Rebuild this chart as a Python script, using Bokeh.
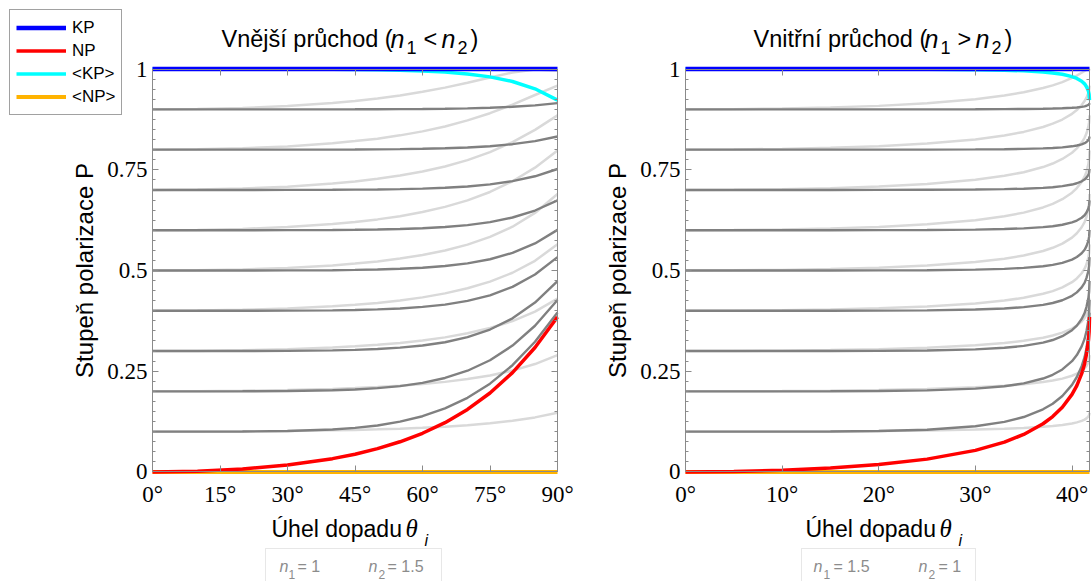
from bokeh.plotting import figure
from bokeh.models import (Range1d, LinearAxis, FixedTicker, Label, Legend, LegendItem,
                          BoxAnnotation)
from bokeh.layouts import row
from bokeh.embed import file_html
from bokeh.resources import INLINE

# ---------------- data ----------------
angles_ext = [0, 10, 20, 30, 40, 45, 50, 55, 60, 65, 70, 75, 80, 85, 90]
kp_ext = [1, 1, 1, 1, 1, 1, 1, 1, 1, 1, 1, 1, 1, 1, 1]
np_ext = [0.0, 0.0017, 0.0071, 0.0170, 0.0329, 0.0440, 0.0577, 0.0748, 0.0959, 0.1223,
          0.1551, 0.1958, 0.2465, 0.3089, 0.3846]
kp_avg_ext = [1.0, 1.0, 1.0, 0.9999, 0.9995, 0.9990, 0.9983, 0.9972, 0.9954, 0.9925,
              0.9879, 0.9807, 0.9692, 0.9511, 0.9231]
np_avg_ext = [0, 0, 0, 0, 0, 0, 0, 0, 0, 0, 0, 0, 0, 0, 0]
dark_ext = [
    [0.1, 0.1, 0.1003, 0.1014, 0.1052, 0.1092, 0.1153, 0.1247, 0.1382, 0.1575, 0.1839, 0.2190, 0.2649, 0.3232, 0.3955],
    [0.2, 0.2, 0.2001, 0.2007, 0.2026, 0.2046, 0.2079, 0.2130, 0.2210, 0.2332, 0.2512, 0.2771, 0.3136, 0.3628, 0.4266],
    [0.3, 0.3, 0.3001, 0.3004, 0.3016, 0.3029, 0.3050, 0.3084, 0.3137, 0.3219, 0.3345, 0.3534, 0.3812, 0.4205, 0.4739],
    [0.4, 0.4, 0.4001, 0.4003, 0.4011, 0.4020, 0.4035, 0.4058, 0.4096, 0.4154, 0.4245, 0.4384, 0.4594, 0.4901, 0.5332],
    [0.5, 0.5, 0.5000, 0.5002, 0.5008, 0.5015, 0.5025, 0.5042, 0.5069, 0.5111, 0.5177, 0.5280, 0.5437, 0.5671, 0.6008],
    [0.6, 0.6, 0.6000, 0.6002, 0.6006, 0.6010, 0.6018, 0.6030, 0.6049, 0.6079, 0.6127, 0.6201, 0.6316, 0.6489, 0.6743],
    [0.7, 0.7, 0.7000, 0.7001, 0.7004, 0.7007, 0.7012, 0.7020, 0.7033, 0.7054, 0.7087, 0.7138, 0.7218, 0.7339, 0.7520],
    [0.8, 0.8, 0.8000, 0.8001, 0.8002, 0.8004, 0.8008, 0.8013, 0.8021, 0.8034, 0.8054, 0.8086, 0.8136, 0.8212, 0.8326],
    [0.9, 0.9, 0.9000, 0.9000, 0.9001, 0.9002, 0.9004, 0.9006, 0.9010, 0.9016, 0.9025, 0.9040, 0.9064, 0.9100, 0.9155],
]
light_ext = [
    [0.1, 0.1002, 0.1007, 0.1016, 0.1031, 0.1042, 0.1056, 0.1073, 0.1095, 0.1123, 0.1159, 0.1206, 0.1269, 0.1353, 0.147],
    [0.2, 0.2003, 0.2013, 0.2031, 0.2060, 0.2081, 0.2107, 0.2140, 0.2182, 0.2235, 0.2305, 0.2395, 0.2515, 0.2677, 0.29],
    [0.3, 0.3004, 0.3019, 0.3045, 0.3087, 0.3117, 0.3155, 0.3202, 0.3263, 0.3340, 0.3440, 0.3571, 0.3744, 0.3977, 0.43],
    [0.4, 0.4006, 0.4024, 0.4057, 0.4111, 0.4149, 0.4196, 0.4257, 0.4333, 0.4432, 0.4559, 0.4724, 0.4944, 0.5241, 0.565],
    [0.5, 0.5006, 0.5027, 0.5065, 0.5127, 0.5171, 0.5226, 0.5296, 0.5384, 0.5497, 0.5643, 0.5834, 0.6087, 0.6429, 0.69],
    [0.6, 0.6008, 0.6033, 0.6078, 0.6152, 0.6204, 0.6269, 0.6349, 0.6451, 0.6580, 0.6741, 0.6949, 0.7215, 0.7553, 0.798],
    [0.7, 0.7008, 0.7033, 0.7081, 0.7157, 0.7210, 0.7276, 0.7358, 0.7456, 0.7582, 0.7741, 0.7940, 0.8187, 0.8492, 0.885],
    [0.8, 0.8009, 0.8035, 0.8080, 0.8159, 0.8213, 0.8273, 0.8355, 0.8454, 0.8577, 0.8726, 0.8905, 0.9119, 0.9357, 0.959],
    [0.9, 0.9008, 0.9035, 0.9082, 0.9157, 0.9209, 0.9272, 0.9347, 0.9436, 0.9540, 0.9659, 0.9790, 0.9916, 0.9990, 0.996],
]

angles_int = [0, 5, 10, 15, 20, 25, 30, 33, 35, 37, 38, 39, 40, 40.5, 41, 41.3, 41.5, 41.7, 41.77, 41.81]
kp_int = [1, 1, 1, 1, 1, 1, 1, 1, 1, 1, 1, 1, 1, 1, 1, 1, 1, 1, 1, 1]
np_int = [0.0, 0.001, 0.004, 0.0094, 0.0181, 0.0317, 0.0535, 0.0739, 0.0930, 0.1195, 0.1373,
          0.1605, 0.1925, 0.2144, 0.2439, 0.2681, 0.2926, 0.3260, 0.3485, 0.3846]
kp_avg_int = [1.0, 1.0, 1.0, 1.0, 0.9998, 0.9995, 0.9986, 0.9973, 0.9957, 0.9928, 0.9905,
              0.9871, 0.9813, 0.9768, 0.9698, 0.9634, 0.9562, 0.9454, 0.9373, 0.9231]
np_avg_int = [0, 0, 0, 0, 0, 0, 0, 0, 0, 0, 0, 0, 0, 0, 0, 0, 0, 0, 0, 0]
dark_int = [
    [0.1, 0.1, 0.1001, 0.1004, 0.1016, 0.1048, 0.1133, 0.1242, 0.1362, 0.1554, 0.1693, 0.1884, 0.2160, 0.2356, 0.2625, 0.2848, 0.3079, 0.3395, 0.3609, 0.3955],
    [0.2, 0.2, 0.2000, 0.2002, 0.2008, 0.2024, 0.2068, 0.2127, 0.2198, 0.2318, 0.2411, 0.2544, 0.2749, 0.2900, 0.3116, 0.3301, 0.3496, 0.3769, 0.3958, 0.4266],
    [0.3, 0.3, 0.3000, 0.3001, 0.3005, 0.3015, 0.3043, 0.3082, 0.3128, 0.3209, 0.3274, 0.3368, 0.3517, 0.3631, 0.3797, 0.3942, 0.4098, 0.4321, 0.4478, 0.4739],
    [0.4, 0.4, 0.4000, 0.4001, 0.4003, 0.4011, 0.4030, 0.4057, 0.4090, 0.4147, 0.4193, 0.4262, 0.4372, 0.4457, 0.4582, 0.4694, 0.4816, 0.4993, 0.5119, 0.5332],
    [0.5, 0.5, 0.5000, 0.5001, 0.5003, 0.5008, 0.5022, 0.5041, 0.5065, 0.5106, 0.5139, 0.5189, 0.5271, 0.5334, 0.5428, 0.5513, 0.5606, 0.5742, 0.5840, 0.6008],
    [0.6, 0.6, 0.6000, 0.6001, 0.6002, 0.6005, 0.6015, 0.6029, 0.6046, 0.6076, 0.6100, 0.6136, 0.6194, 0.6240, 0.6309, 0.6372, 0.6441, 0.6542, 0.6616, 0.6743],
    [0.7, 0.7, 0.7000, 0.7000, 0.7001, 0.7004, 0.7010, 0.7020, 0.7031, 0.7052, 0.7068, 0.7094, 0.7134, 0.7166, 0.7214, 0.7257, 0.7305, 0.7377, 0.7429, 0.7520],
    [0.8, 0.8, 0.8000, 0.8000, 0.8001, 0.8002, 0.8006, 0.8012, 0.8019, 0.8032, 0.8042, 0.8058, 0.8083, 0.8103, 0.8133, 0.8160, 0.8190, 0.8236, 0.8269, 0.8326],
    [0.9, 0.9, 0.9000, 0.9000, 0.9000, 0.9001, 0.9003, 0.9006, 0.9009, 0.9015, 0.9020, 0.9027, 0.9039, 0.9048, 0.9063, 0.9076, 0.9090, 0.9112, 0.9127, 0.9155],
]
light_int = [
    [0.1, 0.1001, 0.1004, 0.1009, 0.1017, 0.1030, 0.1052, 0.1072, 0.1092, 0.1120, 0.1139, 0.1165, 0.1202, 0.1229, 0.1266, 0.1298, 0.1329, 0.1379, 0.1412, 0.147],
    [0.2, 0.2002, 0.2007, 0.2017, 0.2033, 0.2058, 0.2099, 0.2138, 0.2176, 0.2230, 0.2267, 0.2316, 0.2387, 0.2438, 0.2509, 0.2570, 0.2629, 0.2725, 0.2790, 0.29],
    [0.3, 0.3002, 0.3010, 0.3025, 0.3047, 0.3084, 0.3143, 0.3200, 0.3254, 0.3332, 0.3386, 0.3457, 0.3559, 0.3632, 0.3735, 0.3823, 0.3909, 0.4048, 0.4141, 0.43],
    [0.4, 0.4003, 0.4013, 0.4031, 0.4060, 0.4106, 0.4182, 0.4254, 0.4322, 0.4421, 0.4489, 0.4580, 0.4710, 0.4803, 0.4932, 0.5045, 0.5154, 0.5330, 0.5448, 0.565],
    [0.5, 0.5004, 0.5015, 0.5036, 0.5069, 0.5122, 0.5209, 0.5292, 0.5371, 0.5485, 0.5564, 0.5668, 0.5817, 0.5924, 0.6074, 0.6203, 0.6328, 0.6531, 0.6667, 0.69],
    [0.6, 0.6004, 0.6019, 0.6044, 0.6083, 0.6146, 0.6249, 0.6345, 0.6437, 0.6566, 0.6654, 0.6770, 0.6932, 0.7046, 0.7200, 0.7331, 0.7454, 0.7649, 0.7776, 0.798],
    [0.7, 0.7004, 0.7020, 0.7044, 0.7086, 0.7150, 0.7254, 0.7351, 0.7441, 0.7568, 0.7656, 0.7769, 0.7923, 0.8031, 0.8175, 0.8295, 0.8406, 0.8576, 0.8682, 0.885],
    [0.8, 0.8004, 0.8019, 0.8046, 0.8086, 0.8152, 0.8255, 0.8351, 0.8441, 0.8563, 0.8645, 0.8748, 0.8889, 0.8983, 0.9109, 0.9206, 0.9292, 0.9415, 0.9487, 0.959],
    [0.9, 0.9004, 0.9019, 0.9046, 0.9087, 0.9151, 0.9253, 0.9343, 0.9424, 0.9529, 0.9597, 0.9678, 0.9780, 0.9840, 0.9910, 0.9953, 0.9981, 0.9998, 0.9992, 0.996],
]

x_ticks_ext = [0, 15, 30, 45, 60, 75, 90]
x_ticks_int = [0, 10, 20, 30, 40]
x_end_ext = 90
x_end_int = 41.81
y_ticks = [0, 0.25, 0.5, 0.75, 1]
y_tick_labels = ["0", "0.25", "0.5", "0.75", "1"]
legend_labels = ["KP", "NP", "<KP>", "<NP>"]

# ---------------- layout / style ----------------
SANS = "Liberation Sans"
SERIF = "Liberation Serif"
H = 581
Y0_PX = 471.4      # page y (from top) of P = 0
Y1_PX = 68.6       # page y (from top) of P = 1
AX = "#8a8a8a"
DARK = "#808080"
LIGHT = "#d9d9d9"
C_KP = "#0000ff"
C_NP = "#ff0000"
C_KPA = "#00ffff"
C_NPA = "#ffb300"
MINOR_Y = [i * 0.025 for i in range(41)]


def style_axis(ax):
    ax.axis_line_color = AX
    ax.major_tick_line_color = AX
    ax.minor_tick_line_color = AX
    ax.major_tick_in = 6
    ax.major_tick_out = 0
    ax.minor_tick_in = 3
    ax.minor_tick_out = 0


def make_panel(width, x0_px, x1_px, x_end, x_ticks, angles, kp, np_, kpa, npa, dark, light):
    kx = (x1_px - x0_px) / x_end
    ky = Y0_PX - Y1_PX
    xr = Range1d(-x0_px / kx, x_end + (width - x1_px) / kx)
    yr = Range1d(-(H - Y0_PX) / ky, 1 + Y1_PX / ky)
    p = figure(width=width, height=H, x_range=xr, y_range=yr,
               output_backend="svg", toolbar_location=None,
               x_axis_location=None, y_axis_location=None,
               min_border=0, min_border_left=0, min_border_right=0,
               min_border_top=0, min_border_bottom=0)
    p.grid.visible = False
    p.outline_line_color = None
    p.background_fill_color = "white"
    p.border_fill_color = "white"

    bottom = LinearAxis(ticker=FixedTicker(ticks=x_ticks, minor_ticks=[]),
                        major_label_overrides={t: f"{t}\u00b0" for t in x_ticks},
                        fixed_location=0, bounds=(0, x_end))
    left = LinearAxis(ticker=FixedTicker(ticks=y_ticks, minor_ticks=MINOR_Y),
                      major_label_overrides=dict(zip(y_ticks, y_tick_labels)),
                      fixed_location=0, bounds=(0, 1))
    for ax in (bottom, left):
        style_axis(ax)
        ax.major_label_text_font = SERIF
        ax.major_label_text_font_size = "23px"
        ax.major_label_text_color = "black"
    bottom.major_label_standoff = 10
    left.major_label_standoff = 5
    left.axis_label = "Stupeň polarizace P"
    left.axis_label_text_font = SANS
    left.axis_label_text_font_size = "24px"
    left.axis_label_text_font_style = "normal"
    left.axis_label_text_color = "black"
    left.axis_label_standoff = 6

    top = LinearAxis(ticker=FixedTicker(ticks=x_ticks, minor_ticks=[]), major_label_text_color=None,
                     fixed_location=1, bounds=(0, x_end))
    right = LinearAxis(ticker=FixedTicker(ticks=y_ticks, minor_ticks=MINOR_Y), major_label_text_color=None,
                       fixed_location=x_end, bounds=(0, 1))
    for ax in (top, right):
        style_axis(ax)
        ax.major_label_standoff = 0
    p.add_layout(bottom, "below")
    p.add_layout(left, "left")
    p.add_layout(top, "above")
    p.add_layout(right, "right")

    for vals in light:
        p.line(angles, vals, line_color=LIGHT, line_width=2.5)
    for vals in dark:
        p.line(angles, vals, line_color=DARK, line_width=2.4)
    r_kpa = p.line(angles, kpa, line_color=C_KPA, line_width=3.5)
    r_kp = p.line(angles, kp, line_color=C_KP, line_width=4.5)
    r_npa = p.line(angles, npa, line_color=C_NPA, line_width=4)
    r_np = p.line(angles, np_, line_color=C_NP, line_width=3.5)
    return p, [r_kp, r_np, r_kpa, r_npa]


def text(p, off, x, y, s, font=SANS, size=23.0, style="normal", color="black"):
    # x, y: page pixels (y from top, at the text baseline)
    p.add_layout(Label(x=x - off, y=H - y, x_units="screen", y_units="screen",
                       text=s, text_font=font, text_font_size=f"{size}px", text_font_style=style,
                       text_color=color, text_align="left", text_baseline="alphabetic"))


W1 = 600
p1, rs = make_panel(W1, 152, 557, x_end_ext, x_ticks_ext, angles_ext, kp_ext, np_ext,
                    kp_avg_ext, np_avg_ext, dark_ext, light_ext)
p2, _ = make_panel(1092 - W1, 685 - W1, 1089 - W1, x_end_int, x_ticks_int, angles_int, kp_int, np_int,
                   kp_avg_int, np_avg_int, dark_int, light_int)

# legend
legend = Legend(items=[LegendItem(label=l, renderers=[r]) for l, r in zip(legend_labels, rs)],
                location=(9, H - 115))
legend.label_text_font = SANS
legend.label_text_font_size = "17px"
legend.label_text_color = "black"
legend.label_height = 23
legend.glyph_height = 23
legend.glyph_width = 50
legend.spacing = 0
legend.padding = 6
legend.margin = 0
legend.label_standoff = 6
legend.border_line_color = "#444444"
legend.border_line_width = 1
legend.background_fill_color = "white"
legend.background_fill_alpha = 1
p1.add_layout(legend)

# titles
TS = 23.5
for (p, off, xs, prefix, rel) in [(p1, 0, [221, 390, 406, 423, 441, 457, 470], "Vnější průchod (", "<"),
                                  (p2, W1, [753, 924, 940, 957, 975, 991, 1004], "Vnitřní průchod (", ">")]:
    text(p, off, xs[0], 38.5, prefix, size=TS)
    text(p, off, xs[1], 38.5, "n", size=25, style="italic")
    text(p, off, xs[2], 47, "1", size=18)
    text(p, off, xs[3], 38.5, rel, size=TS)
    text(p, off, xs[4], 38.5, "n", size=25, style="italic")
    text(p, off, xs[5], 47, "2", size=18)
    text(p, off, xs[6], 38.5, ")", size=TS)

# x axis labels
for (p, off, x0, xt, xi) in [(p1, 0, 271, 405, 424), (p2, W1, 805, 939, 958)]:
    text(p, off, x0, 528, "Úhel dopadu")
    text(p, off, xt, 528, "θ", font=SERIF, size=25, style="italic")
    text(p, off, xi, 540, "i", size=16, style="italic")

# refractive index boxes
GR = "#8c8c8c"
for (p, off, bl, br, xs, v1, v2) in [(p1, 0, 265, 441, [279, 288, 297, 368, 378, 387], "= 1", "= 1.5"),
                                     (p2, W1, 801, 975, [813, 823, 833, 918, 928, 938], "= 1.5", "= 1")]:
    p.add_layout(BoxAnnotation(left=bl - off, right=br - off, top=H - 548, bottom=-20,
                               left_units="screen", right_units="screen", top_units="screen",
                               bottom_units="screen", fill_color="white", fill_alpha=1,
                               line_color="#b0b0b0", line_width=1))
    text(p, off, xs[0], 566, "n", size=16, style="italic", color=GR)
    text(p, off, xs[1], 574, "1", size=12, color=GR)
    text(p, off, xs[2], 566, v1, size=16, color=GR)
    text(p, off, xs[3], 566, "n", size=16, style="italic", color=GR)
    text(p, off, xs[4], 574, "2", size=12, color=GR)
    text(p, off, xs[5], 566, v2, size=16, color=GR)

layout = row(p1, p2, spacing=0)
open("out.html", "w").write(file_html(layout, INLINE))
